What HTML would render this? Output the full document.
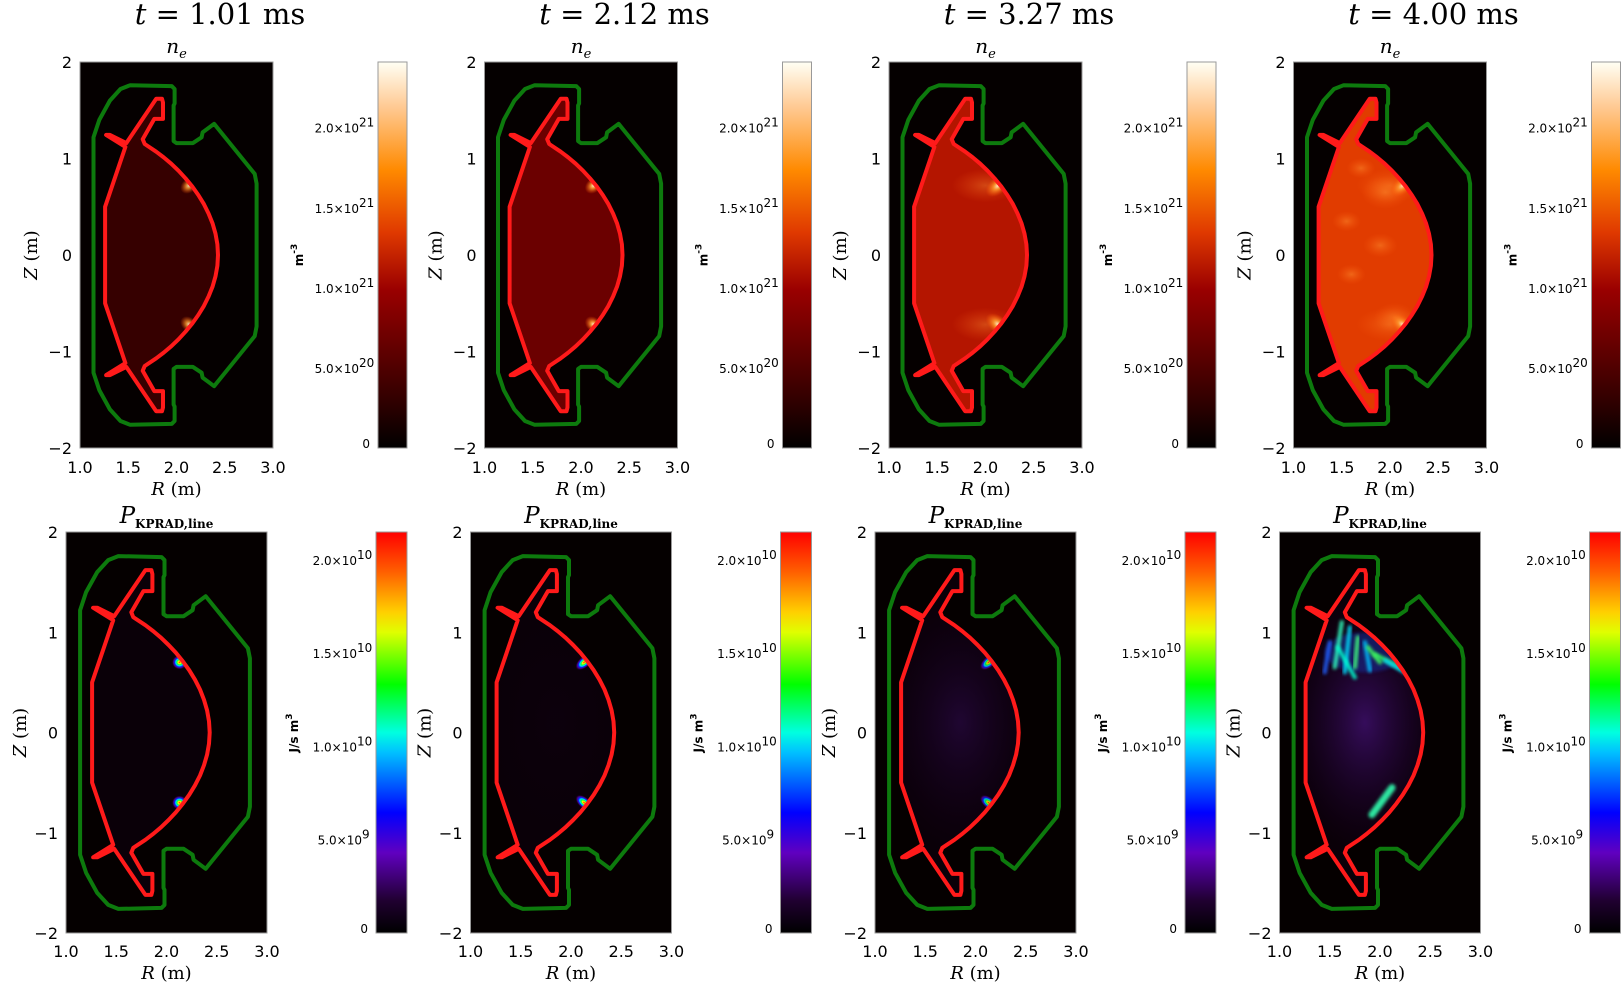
<!DOCTYPE html>
<html><head><meta charset="utf-8"><style>
body{margin:0;background:#fff;}
svg{display:block;}
.tk{font-family:"DejaVu Sans","Liberation Sans",sans-serif;font-size:16px;fill:#000;}
.cb{font-family:"DejaVu Sans","Liberation Sans",sans-serif;font-size:12px;fill:#000;}
.ttl{font-family:"DejaVu Serif","Liberation Serif",serif;font-size:29px;fill:#000;}
.sub{font-family:"DejaVu Serif","Liberation Serif",serif;font-size:20px;font-style:italic;fill:#000;}
.lab{font-family:"DejaVu Serif","Liberation Serif",serif;font-size:18px;fill:#000;}
</style></head><body>
<svg id="fig" width="1621" height="987" viewBox="0 0 1621 987" xmlns="http://www.w3.org/2000/svg">
<defs>
<linearGradient id="hotcm" x1="0" y1="1" x2="0" y2="0">
<stop offset="0" stop-color="#000"/><stop offset="0.12" stop-color="#300000"/><stop offset="0.41" stop-color="#9a0000"/><stop offset="0.56" stop-color="#e03a00"/><stop offset="0.72" stop-color="#ff8a00"/><stop offset="0.88" stop-color="#ffc890"/><stop offset="1" stop-color="#fffff4"/>
</linearGradient>
<linearGradient id="raincm" x1="0" y1="1" x2="0" y2="0">
<stop offset="0" stop-color="#000"/><stop offset="0.08" stop-color="#200030"/><stop offset="0.2" stop-color="#6000c0"/><stop offset="0.3" stop-color="#0000ff"/><stop offset="0.45" stop-color="#00c0ff"/><stop offset="0.5" stop-color="#00ffe0"/><stop offset="0.62" stop-color="#00ff00"/><stop offset="0.75" stop-color="#e0ff00"/><stop offset="0.8" stop-color="#ffd000"/><stop offset="0.9" stop-color="#ff6000"/><stop offset="1" stop-color="#ff0000"/>
</linearGradient>
<radialGradient id="hotspot"><stop offset="0" stop-color="#fff0d0" stop-opacity="1"/><stop offset="0.35" stop-color="#ffa030" stop-opacity="0.85"/><stop offset="1" stop-color="#ff5000" stop-opacity="0"/></radialGradient>
<radialGradient id="blob"><stop offset="0" stop-color="#ff9030" stop-opacity="0.9"/><stop offset="1" stop-color="#ff6010" stop-opacity="0"/></radialGradient>
<radialGradient id="radspot"><stop offset="0" stop-color="#ff2000"/><stop offset="0.2" stop-color="#ffff00"/><stop offset="0.35" stop-color="#00ff40"/><stop offset="0.5" stop-color="#00e0ff"/><stop offset="0.65" stop-color="#0020ff"/><stop offset="0.8" stop-color="#6000c0" stop-opacity="0.7"/><stop offset="1" stop-color="#300050" stop-opacity="0"/></radialGradient>
<radialGradient id="purp"><stop offset="0" stop-color="#401070" stop-opacity="0.8"/><stop offset="1" stop-color="#200030" stop-opacity="0"/></radialGradient>
<filter id="glow" x="-50%" y="-50%" width="200%" height="200%"><feGaussianBlur stdDeviation="1.5"/></filter>
</defs>
</svg>
<script>
const times = ["1.01","2.12","3.27","4.00"];
const neMean = [0.33, 0.68, 1.12, 1.36];      // plasma-average n_e (1e21 m^-3)
const neSpot = [0.9, 1.0, 1.0, 0.9];          // hotspot strength
const radBg = [0.0, 0.05, 0.5, 1.0];          // background radiation level
const radSpot = [1.0, 1.0, 0.85, 0.9];        // radiation spot strength
const rTicks = ["1.0","1.5","2.0","2.5","3.0"];
const zTicks = ["2","1","0","\u22121","\u22122"];
const neCbVals = [0, 0.5, 1.0, 1.5, 2.0];     // 1e21
const neCbLabels = [["0",""],["5.0\u00d710","20"],["1.0\u00d710","21"],["1.5\u00d710","21"],["2.0\u00d710","21"]];
const radCbVals = [0, 0.5, 1.0, 1.5, 2.0];    // 1e10
const radCbLabels = [["0",""],["5.0\u00d710","9"],["1.0\u00d710","10"],["1.5\u00d710","10"],["2.0\u00d710","10"]];
const neMax = 2.41, radMax = 2.15;
// filament streaks in last radiation frame
const filR1 = [1.62,1.7,1.78,1.85,1.95,2.05,1.5,1.58,2.12,1.88];
const filZ1 = [1.1,1.05,0.95,0.9,0.78,0.72,0.9,0.85,-0.55,0.85];
const filR2 = [1.55,1.65,1.75,1.9,2.25,2.25,1.45,1.75,1.92,2.0];
const filZ2 = [0.65,0.6,0.65,0.62,0.62,0.6,0.6,0.55,-0.82,0.7];
const filC = ["#30ffc0","#00e0ff","#40ff80","#00c0ff","#30ff60","#00d0ff","#2060ff","#00ffd0","#30ffb0","#40ff60"];

const NS="http://www.w3.org/2000/svg";
const svg=document.getElementById('fig');
function mk(tag,attrs,parent){const e=document.createElementNS(NS,tag);for(const k in attrs)e.setAttribute(k,attrs[k]);(parent||svg).appendChild(e);return e;}

const wallTop=[[1.14,0],[1.14,1.22],[1.2,1.4],[1.31,1.6],[1.42,1.72],[1.52,1.76],[1.95,1.75],[1.98,1.72],[1.98,1.57],[1.97,1.55],[1.97,1.18],[2.0,1.16],[2.17,1.16],[2.26,1.22],[2.27,1.27],[2.39,1.36],[2.81,0.84],[2.83,0.74],[2.83,0]];
const redTop=[[1.26,0],[1.26,0.5],[1.47,1.12],[1.27,1.245],[1.31,1.245],[1.48,1.16],[1.79,1.62],[1.85,1.62],[1.86,1.58],[1.86,1.41],[1.77,1.41],[1.65,1.2],[1.67,1.15],[1.79,1.07]];
for(let i=1;i<=12;i++){const t=i/12,u=1-t;redTop.push([u*u*u*1.79+3*u*u*t*2.1+3*u*t*t*2.43+t*t*t*2.43,u*u*u*1.07+3*u*u*t*0.85+3*u*t*t*0.45]);}
function closed(top){const b=top.slice(1,-1).map(p=>[p[0],-p[1]]).reverse();return top.concat(b);}
const wall=closed(wallTop), red=closed(redTop);

function panel(k,row){
  const off=404.5*k;
  const P = row===0 ? {x0:80+off,x1:273+off,y0:62,y1:448,cb0:378+off,cb1:407+off}
                    : {x0:66+off,x1:267+off,y0:532,y1:933,cb0:376+off,cb1:407+off};
  const X=R=>P.x0+(R-1)/2*(P.x1-P.x0), Y=Z=>P.y0+(2-Z)/4*(P.y1-P.y0);
  const g=mk('g',{});
  
  
  const cx=(P.x0+P.x1)/2;
  if(row===0){
    const t=mk('text',{x:P.x0+140,y:24,'text-anchor':'middle',class:'ttl'},g);
    
    t.innerHTML='<tspan font-style="italic">t</tspan> = '+times[k]+' ms';
    const s=mk('text',{x:cx,y:53,'text-anchor':'middle',class:'sub'},g);
    
    s.innerHTML='n<tspan font-size="13" dy="5">e</tspan>';
  } else {
    const s=mk('text',{x:cx,y:523,'text-anchor':'middle',class:'lab'},g);
    
    s.innerHTML='<tspan font-style="italic" font-size="23">P</tspan><tspan font-family="DejaVu Serif" font-weight="bold" font-size="12" dy="5">KPRAD,line</tspan>';
  }
  const bg=mk('rect',{x:P.x0,y:P.y0,width:P.x1-P.x0,height:P.y1-P.y0,fill:'#050000',stroke:'#999','stroke-width':1},g);
  
  const pts=a=>a.map(p=>X(p[0]).toFixed(1)+','+Y(p[1]).toFixed(1)).join(' ');
  const clipId='c'+row+k;
  const cp=mk('clipPath',{id:clipId},svg);mk('polygon',{points:pts(red)},cp);
  const inner=mk('g',{'clip-path':'url(#'+clipId+')'},g);
  const sx=(P.x1-P.x0)/2;
  if(row===0){
    const f=neMean[k]/neMax;
    const stops=[[0,[0,0,0]],[0.12,[48,0,0]],[0.41,[154,0,0]],[0.56,[224,58,0]],[0.72,[255,138,0]],[0.88,[255,200,144]],[1,[255,255,244]]];
    let c=[0,0,0];for(let i=0;i<stops.length-1;i++){if(f>=stops[i][0]&&f<=stops[i+1][0]){const u=(f-stops[i][0])/(stops[i+1][0]-stops[i][0]);c=stops[i][1].map((v,j)=>Math.round(v+u*(stops[i+1][1][j]-v)));}}
    const fill=mk('rect',{x:P.x0,y:P.y0,width:P.x1-P.x0,height:P.y1-P.y0,fill:'rgb('+c.join(',')+')'},inner);
    
    if(k>=2){[[2.0,0.72,0.35],[2.0,-0.72,0.35]].forEach(h=>{mk('ellipse',{cx:X(h[0]),cy:Y(h[1]),rx:sx*h[2],ry:sx*h[2]*0.5,fill:'url(#blob)',opacity:0.45},inner);});}
    if(k===3){[[1.95,0.65,0.25],[2.05,-0.65,0.22],[1.55,0.35,0.15],[1.9,0.1,0.18],[1.6,-0.2,0.15],[1.7,0.9,0.15]].forEach(h=>{mk('ellipse',{cx:X(h[0]),cy:Y(h[1]),rx:sx*h[2],ry:sx*h[2]*0.7,fill:'url(#blob)',opacity:0.55},inner);});}
    [[2.13,0.72,-40],[2.13,-0.72,40]].forEach(h=>{const e=mk('ellipse',{cx:X(h[0]),cy:Y(h[1]),rx:sx*(k>=2?0.15:0.1),ry:sx*(k>=2?0.09:0.075),transform:'rotate('+h[2]+' '+X(h[0])+' '+Y(h[1])+')',fill:'url(#hotspot)',opacity:neSpot[k]},inner);
      });
  } else {
    mk('rect',{x:P.x0,y:P.y0,width:P.x1-P.x0,height:P.y1-P.y0,fill:'#0a0008'},inner);
    if(radBg[k]>0){const e=mk('ellipse',{cx:X(1.85),cy:Y(0.1),rx:sx*0.8,ry:sx*1.3,fill:'url(#purp)',opacity:radBg[k]},inner);
      }
    if(k<3){[[2.13,0.7,-40],[2.13,-0.7,40]].forEach(h=>{const e=mk('ellipse',{cx:X(h[0]),cy:Y(h[1]),rx:sx*(k===0?0.075:0.1),ry:sx*(k===0?0.07:0.055),transform:'rotate('+(k===0?0:h[2])+' '+X(h[0])+' '+Y(h[1])+')',fill:'url(#radspot)',opacity:radSpot[k]},inner);
      });}
    else {
      mk('ellipse',{cx:X(1.85),cy:Y(0.8),rx:sx*0.4,ry:sx*0.2,fill:'#1830a0',opacity:0.5,filter:'url(#glow)'},inner);
      filR1.forEach((r1,i)=>{const l=mk('line',{x1:X(r1),y1:Y(filZ1[i]),x2:X(filR2[i]),y2:Y(filZ2[i]),stroke:filC[i],'stroke-width':i===8?7:4,'stroke-linecap':'round',opacity:0.9,filter:'url(#glow)'},inner);
        });
    }
  }
  const w=mk('polygon',{points:pts(wall),fill:'none',stroke:'#0d7a0d','stroke-width':4,'stroke-linejoin':'round'},g);
  
  const r=mk('polygon',{points:pts(red),fill:'none',stroke:'#ff1a1a','stroke-width':4,'stroke-linejoin':'round'},g);
  
  rTicks.forEach((l,i)=>{const t=mk('text',{x:X(1+i*0.5),y:P.y1+(row===0?25:24),'text-anchor':'middle',class:'tk'},g);t.textContent=l;
    });
  zTicks.forEach((l,i)=>{const t=mk('text',{x:P.x0-8,y:Y(2-i)+6,'text-anchor':'end',class:'tk'},g);t.textContent=l;
    });
  const xl=mk('text',{x:cx,y:P.y1+(row===0?47:46),'text-anchor':'middle',class:'lab'},g);
  xl.innerHTML='<tspan font-style="italic">R</tspan> (m)';
  const zy=(P.y0+P.y1)/2, zx=P.x0-(row===0?43:40);
  const yl=mk('text',{x:zx,y:zy,'text-anchor':'middle',class:'lab',transform:'rotate(-90 '+zx+' '+zy+')'},g);
  yl.innerHTML='<tspan font-style="italic">Z</tspan> (m)';
  const cb=mk('rect',{x:P.cb0,y:P.y0,width:P.cb1-P.cb0,height:P.y1-P.y0,fill:row===0?'url(#hotcm)':'url(#raincm)',stroke:'#999','stroke-width':1},g);
  
  const vals=row===0?neCbVals:radCbVals, labs=row===0?neCbLabels:radCbLabels, mx=row===0?neMax:radMax;
  vals.forEach((v,i)=>{const yy=P.y1-v/mx*(P.y1-P.y0);
    const t=mk('text',{x:P.cb0-(labs[i][1]?(labs[i][1].length>1?19:14):8),y:yy+(i===0?0:5),'text-anchor':'end',class:'cb'},g);
    t.textContent=labs[i][0];
    
    if(labs[i][1]){const s=mk('text',{x:P.cb0-(labs[i][1].length>1?19:14),y:yy-1,class:'cb','font-size':'9'},g);s.textContent=labs[i][1];}
  });
  const ux=row===0?P.cb0-75:P.cb0-78, uy=row===0?255:733;
  const u=mk('text',{x:ux,y:uy,'text-anchor':'middle',class:'cb','font-weight':'bold',transform:'rotate(-90 '+ux+' '+uy+')'},g);
  u.innerHTML=row===0?'m<tspan font-size="9" dy="-6">-3</tspan>':'J/s m<tspan font-size="9" dy="-6">3</tspan>';
  
}
for(let k=0;k<4;k++){panel(k,0);panel(k,1);}
</script>
</body></html>
